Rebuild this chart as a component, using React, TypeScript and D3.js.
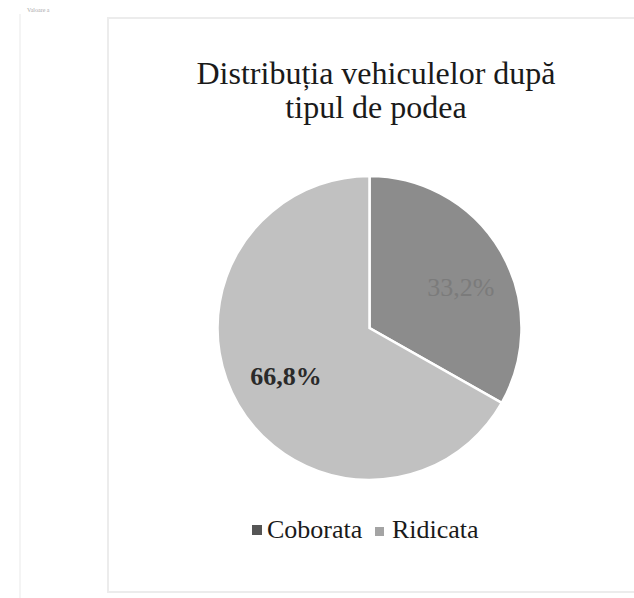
import { useEffect, useRef } from 'react';
import * as d3 from 'd3';

const categories = ['Coborata', 'Ridicata'];
const values = [33.2, 66.8];
const labels = ['33,2%', '66,8%'];
const colors = ['#8c8c8c', '#c1c1c1'];
const titleLines = ['Distribuția vehiculelor după', 'tipul de podea'];

const App: React.FC = () => {
  const svgRef = useRef<SVGSVGElement | null>(null);

  useEffect(() => {
    if (!svgRef.current) return;
    const svg = d3.select(svgRef.current);
    svg.selectAll('*').remove();

    const width = 634;
    const height = 598;
    const cx = 369.5;
    const cy = 328;
    const radius = 152;
    const font = '"Liberation Serif", "Times New Roman", serif';

    svg.append('rect').attr('width', width).attr('height', height).attr('fill', '#fff');

    // faint frame + leftover text from the scan
    svg.append('rect')
      .attr('x', 108).attr('y', 18)
      .attr('width', 540).attr('height', 574)
      .attr('fill', 'none')
      .attr('stroke', '#ececec')
      .attr('stroke-width', 2);
    svg.append('line')
      .attr('x1', 20).attr('x2', 20).attr('y1', 14).attr('y2', 598)
      .attr('stroke', '#f4f4f4').attr('stroke-width', 2);
    svg.append('text')
      .attr('x', 27).attr('y', 12)
      .attr('font-family', font).attr('font-size', 6)
      .attr('fill', '#aaa')
      .text('Valoare a');

    svg.append('g')
      .attr('font-family', font)
      .attr('font-size', 32)
      .attr('fill', '#1a1a1a')
      .attr('text-anchor', 'middle')
      .selectAll('text')
      .data(titleLines)
      .join('text')
      .attr('x', 376)
      .attr('y', (d, i) => 84 + i * 34)
      .text(d => d);

    const pie = d3.pie<number>().sort(null).value(d => d);
    const arcs = pie(values);
    const arc = d3.arc<d3.PieArcDatum<number>>().innerRadius(0).outerRadius(radius);

    const g = svg.append('g').attr('transform', `translate(${cx},${cy})`);
    g.selectAll('path')
      .data(arcs)
      .join('path')
      .attr('d', arc)
      .attr('fill', (d, i) => colors[i])
      .attr('stroke', '#fff')
      .attr('stroke-width', 2.5);

    const labelArc = d3.arc<d3.PieArcDatum<number>>().innerRadius(radius * 0.62).outerRadius(radius * 0.62);
    const labelStyles = [
      { fill: '#7b7b7b', weight: 'normal', size: 26, dx: 10, dy: 7 },
      { fill: '#2a2a2a', weight: 'bold', size: 26, dx: -2, dy: 1 },
    ];
    g.selectAll('text.lbl')
      .data(arcs)
      .join('text')
      .attr('class', 'lbl')
      .attr('x', (d, i) => labelArc.centroid(d)[0] + labelStyles[i].dx)
      .attr('y', (d, i) => labelArc.centroid(d)[1] + labelStyles[i].dy)
      .attr('text-anchor', 'middle')
      .attr('dominant-baseline', 'central')
      .attr('font-family', font)
      .attr('font-size', (d, i) => labelStyles[i].size)
      .attr('font-weight', (d, i) => labelStyles[i].weight)
      .attr('fill', (d, i) => labelStyles[i].fill)
      .text((d, i) => labels[i]);

    const legendX = [252, 375];
    const legend = svg.append('g')
      .attr('font-family', font)
      .attr('font-size', 26)
      .selectAll('g')
      .data(categories)
      .join('g')
      .attr('transform', (d, i) => `translate(${legendX[i]},538)`);
    legend.append('rect')
      .attr('x', 0).attr('y', (d, i) => (i === 0 ? -13 : -11))
      .attr('width', (d, i) => (i === 0 ? 10 : 9))
      .attr('height', (d, i) => (i === 0 ? 10 : 9))
      .attr('fill', (d, i) => (i === 0 ? '#555' : '#a4a4a4'));
    legend.append('text')
      .attr('x', (d, i) => (i === 0 ? 15 : 17))
      .attr('y', 0)
      .attr('fill', '#1a1a1a')
      .text(d => d);
  }, []);

  return <svg ref={svgRef} width={634} height={598} style={{ display: 'block', position: 'absolute', left: 0, top: 0 }} />;
};

export default App;
